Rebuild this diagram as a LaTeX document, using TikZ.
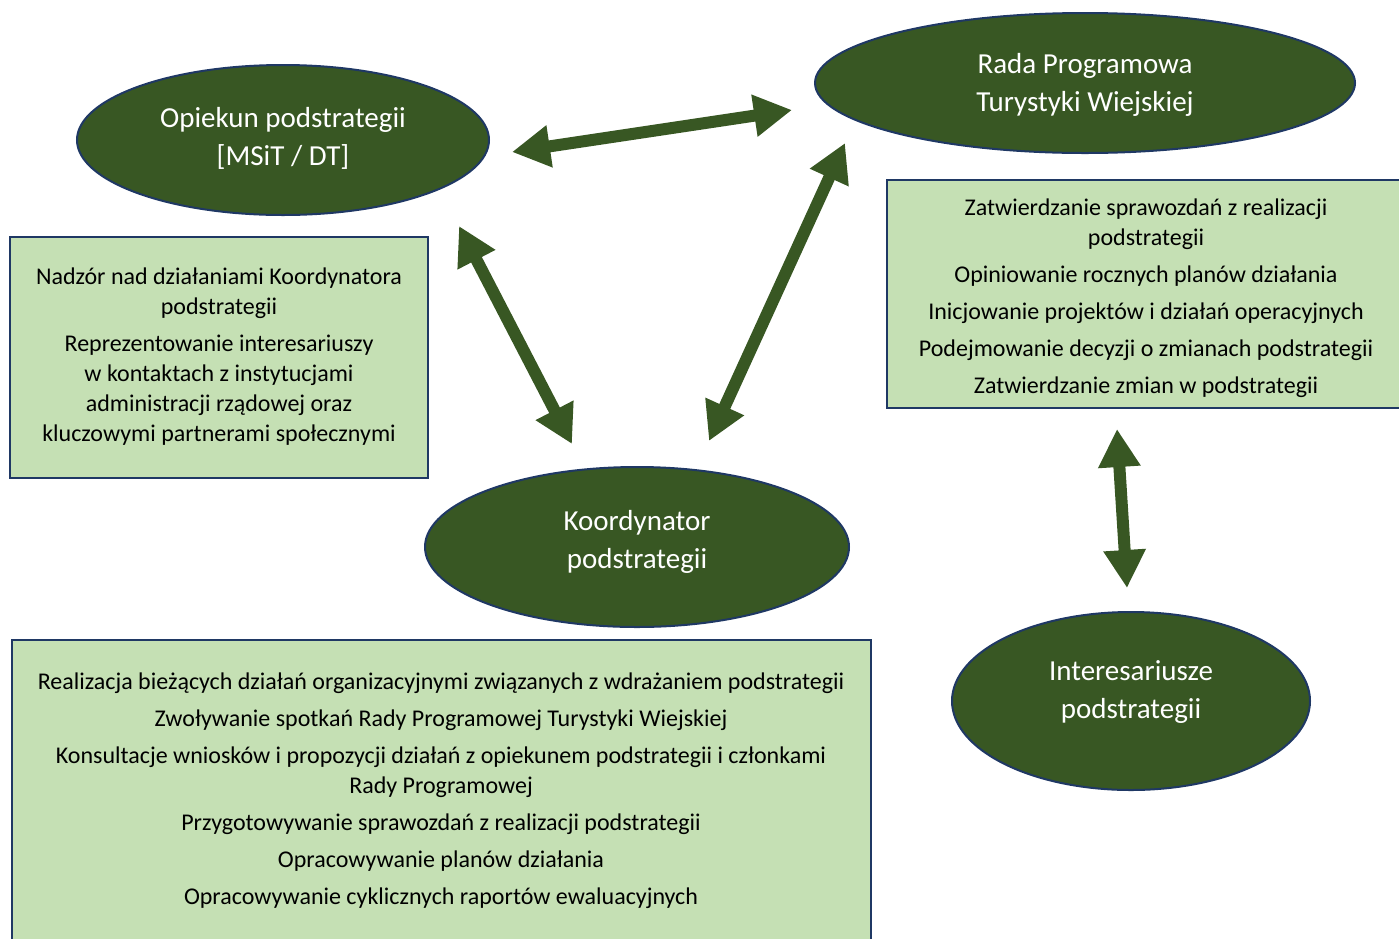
\documentclass[tikz,border=0pt]{standalone}
\usepackage{fontspec}
\setmainfont{Carlito}
\usetikzlibrary{positioning,shapes.geometric,arrows.meta}
\definecolor{ciemnazielen}{RGB}{56,87,35}
\definecolor{jasnazielen}{RGB}{197,224,180}
\definecolor{granat}{RGB}{31,56,100}
\tikzset{
  rola/.style={ellipse, fill=ciemnazielen, draw=granat, line width=2pt, inner sep=0pt},
  rolatekst/.style={align=center, text=white, font=\fontsize{29}{38}\selectfont},
  zadania/.style={align=center, font=\fontsize{24}{30}\selectfont},
  pole/.style={fill=jasnazielen, draw=granat, line width=2pt},
  strzalka/.style={ciemnazielen, line width=12pt, arrows={Triangle[length=38pt,width=40pt]-Triangle[length=38pt,width=40pt]}}
}
\begin{document}
\begin{tikzpicture}[x=1pt,y=-1pt]
\useasboundingbox (0,0) rectangle (1399,938);

\draw[pole](10, 237) rectangle (428, 478);
\draw[pole](887, 180) rectangle (1410, 408);
\draw[pole](12, 640) rectangle (871, 950);

\node[rola, minimum width=412, minimum height=150] (opiekun) at (283,140) {};
\node[rola, minimum width=540, minimum height=140] (rada) at (1085,83) {};
\node[rola, minimum width=424, minimum height=160] (koordynator) at (637,547) {};
\node[rola, minimum width=358, minimum height=178] (interesariusze) at (1131,701) {};

\node[rolatekst] (opiekuntekst) at (283,138) {Opiekun podstrategii\\ {[}MSiT / DT{]}};
\node[rolatekst] (radatekst) at (1085,85) {Rada Programowa\\ Turystyki Wiejskiej};
\node[rolatekst] (koordynatortekst) at (637,542) {Koordynator\\ podstrategii};
\node[rolatekst] (interesariuszetekst) at (1131,692) {Interesariusze\\ podstrategii};

\node[zadania] (zadaniaopiekuna) at (219,357) {Nadzór nad działaniami Koordynatora\\ podstrategii\\[7pt]
  Reprezentowanie interesariuszy\\ w kontaktach z instytucjami\\ administracji rządowej oraz\\ kluczowymi partnerami społecznymi};
\node[zadania] (zadaniarady) at (1146,298) {Zatwierdzanie sprawozdań z realizacji\\ podstrategii\\[7pt]
  Opiniowanie rocznych planów działania\\[7pt] Inicjowanie projektów i działań operacyjnych\\[7pt]
  Podejmowanie decyzji o zmianach podstrategii\\[7pt] Zatwierdzanie zmian w podstrategii};
\node[zadania] (zadaniakoordynatora) at (441,791) {Realizacja bieżących działań organizacyjnymi związanych z wdrażaniem podstrategii\\[7pt]
  Zwoływanie spotkań Rady Programowej Turystyki Wiejskiej\\[7pt]
  Konsultacje wniosków i propozycji działań z opiekunem podstrategii i członkami\\ Rady Programowej\\[7pt]
  Przygotowywanie sprawozdań z realizacji podstrategii\\[7pt] Opracowywanie planów działania\\[7pt]
  Opracowywanie cyklicznych raportów ewaluacyjnych};

\coordinate (o1) at (512,152);
\coordinate (r1) at (792,110);
\coordinate (o2) at (459,226);
\coordinate (k1) at (572,444);
\coordinate (r2) at (845,143);
\coordinate (k2) at (709,441);
\coordinate (z1) at (1117,429);
\coordinate (i1) at (1127,588);

\draw[strzalka](o1) -- (r1);
\draw[strzalka](o2) -- (k1);
\draw[strzalka](r2) -- (k2);
\draw[strzalka](z1) -- (i1);

\end{tikzpicture}
\end{document}
